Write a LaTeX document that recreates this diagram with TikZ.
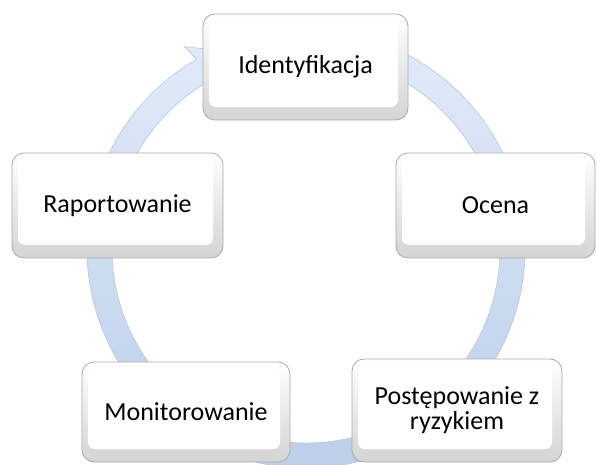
\documentclass[tikz,border=0pt]{standalone}
\usepackage{fontspec}
\setmainfont{Carlito}
\usetikzlibrary{calc}

\definecolor{ringtop}{RGB}{224,234,249}
\definecolor{ringbot}{RGB}{186,205,231}
\definecolor{ringedge}{RGB}{176,195,224}
\definecolor{boxedge}{RGB}{170,170,170}
\definecolor{bevel}{RGB}{212,212,212}

\tikzset{
  stepbox/.style={
    draw=boxedge, line width=0.8pt, rounded corners=12pt,
    top color=white, bottom color=bevel,
    inner sep=0pt, align=center,
    font=\fontsize{26}{25}\selectfont,
    path picture={
      \fill[white, rounded corners=7pt]
        ([xshift=6pt,yshift=-4pt]path picture bounding box.north west)
        rectangle
        ([xshift=-10pt,yshift=13pt]path picture bounding box.south east);
    }
  },
  ringarrow/.style={
    top color=ringtop, bottom color=ringbot,
    draw=ringedge, line width=0.5pt
  }
}

\begin{document}
\begin{tikzpicture}[x=1pt,y=1pt]
  \useasboundingbox (0,0) rectangle (597,464);
  \fill[white] (0,0) rectangle (597,464);

  % circular arrow running clockwise behind the boxes
  \coordinate (C) at (306,215);
  \shade[ringarrow]
    ($(C)+(70:219pt)$) arc[start angle=70, end angle=-240, radius=219pt]
    -- ($(C)+(121:236pt)$)
    -- ($(C)+(108:206.5pt)$)
    -- ($(C)+(121:177pt)$)
    -- ($(C)+(120:194pt)$)
    arc[start angle=-240, end angle=70, radius=194pt]
    -- cycle;

  % process steps
  \node[stepbox, minimum width=205pt, minimum height=106pt] (ident) at (305.5,397) {Identyfikacja};
  \node[stepbox, minimum width=199pt, minimum height=105pt] (ocena) at (495.5,258.5) {Ocena};
  \node[stepbox, minimum width=210pt, minimum height=103pt] (post) at (457,53.5) {Postępowanie z\\ryzykiem};
  \node[stepbox, minimum width=208pt, minimum height=100pt] (monit) at (186,52) {Monitorowanie};
  \node[stepbox, minimum width=211pt, minimum height=105pt] (rapo) at (117.5,258.5) {Raportowanie};
\end{tikzpicture}
\end{document}
